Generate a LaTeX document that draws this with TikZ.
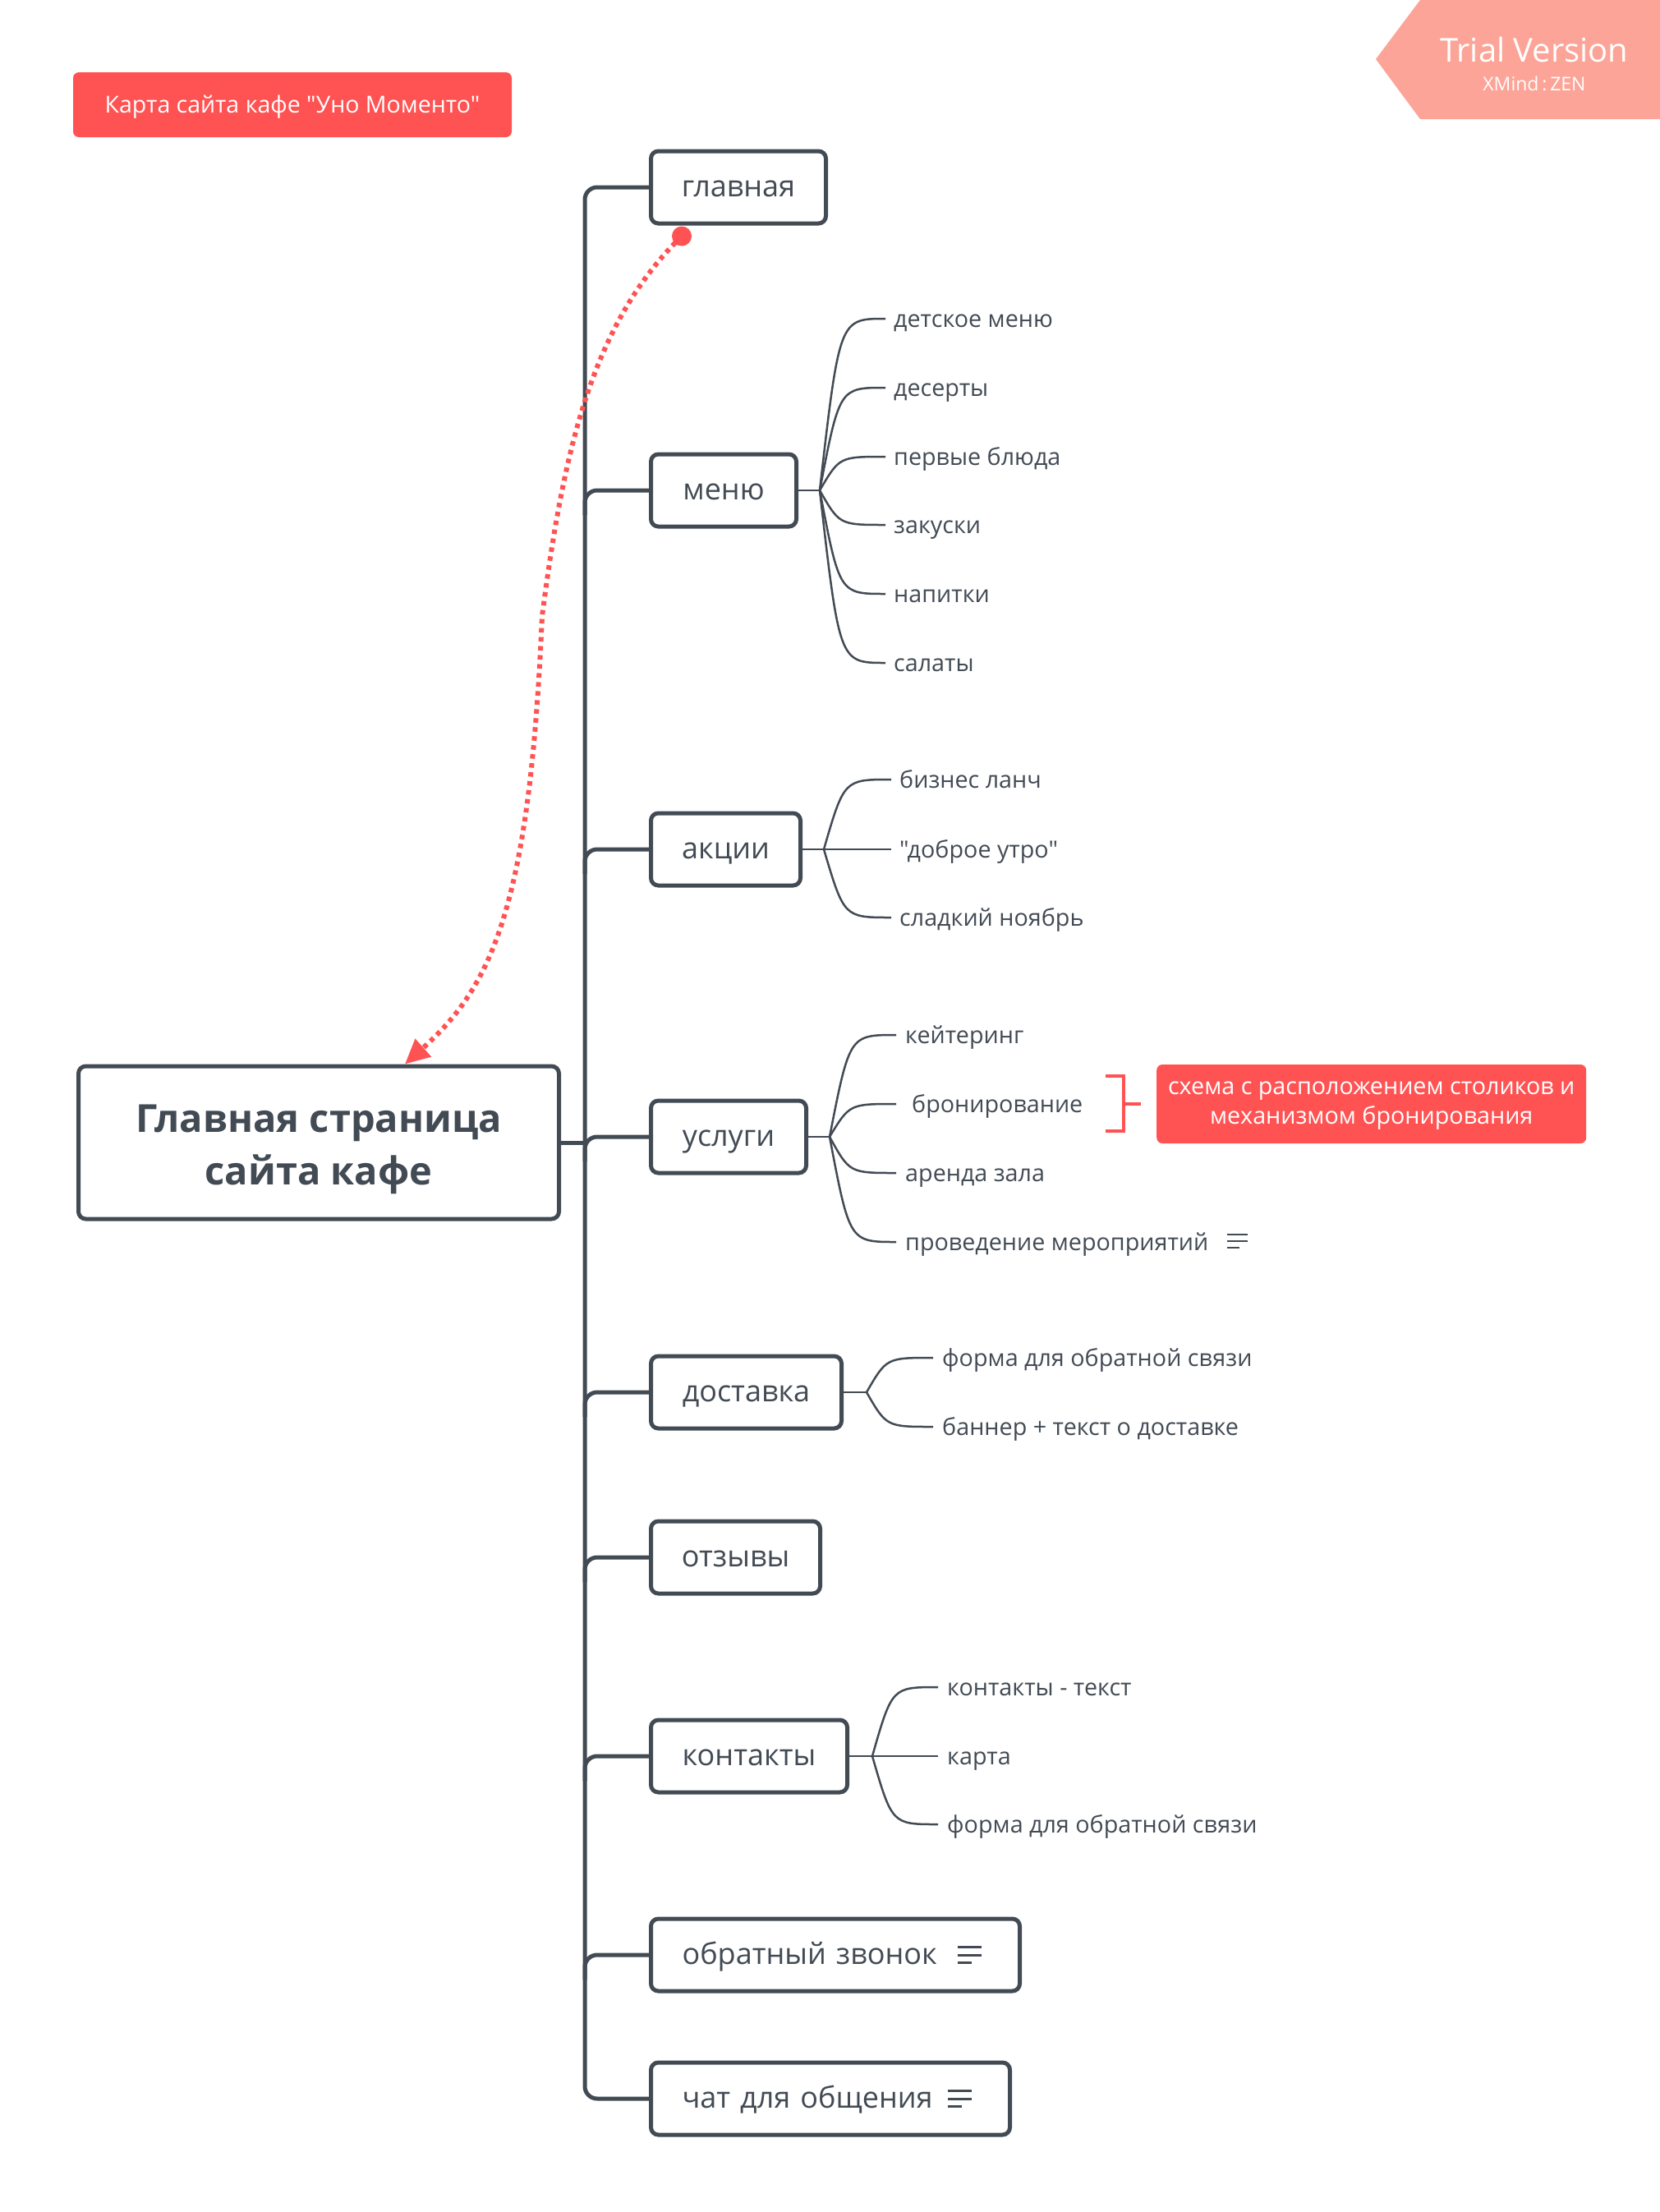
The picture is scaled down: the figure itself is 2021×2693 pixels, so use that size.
\documentclass[tikz,border=0pt]{standalone}
\usepackage{fontspec}
\setmainfont{Open Sans}[Ligatures=TeXOff]
\usetikzlibrary{arrows.meta,calc}
\definecolor{dark}{RGB}{66,74,84}
\definecolor{xred}{RGB}{255,83,83}
\definecolor{salmon}{RGB}{252,164,151}
\newcommand{\fsz}[2]{\fontsize{#1}{#2}\selectfont}
\tikzset{
  branch/.style={draw=dark, line width=5pt, rounded corners=9pt, fill=white, minimum height=88pt,
    text=dark, font=\fsz{36}{44}, text height=31pt, text depth=7.7pt, inner xsep=0pt, anchor=west},
  leaf/.style={text=dark, font=\fsz{28.7}{34}, inner xsep=10pt, inner ysep=0pt,
    text height=26pt, text depth=4.6pt, anchor=west},
  trunk/.style={draw=dark, line width=5pt, rounded corners=15pt},
  twig/.style={draw=dark, line width=2.5pt},
  noteicon/.style={draw=dark, line width=3pt},
  smallicon/.style={draw=dark, line width=2.5pt},
  rel/.style={draw=xred, line width=6pt, dash pattern=on 5.5pt off 5.5pt,
    -{Triangle[length=30pt,width=28pt]}},
  redbox/.style={fill=xred, rounded corners=7pt, text=white},
  bracketline/.style={draw=xred, line width=4pt},
}
\newcommand{\twigto}[2]{\draw[twig] (#1) .. controls ($(#1|-#2.west)!0.3!(#2.west)$) .. (#2.west);}
\begin{document}
\begin{tikzpicture}[x=1pt,y=-1pt]
\useasboundingbox (0,0) rectangle (2021,2693);
\fill[white] (0,0) rectangle (2021,2693);

% trial banner
\fill[salmon] (1675,72) -- (1729,0) -- (2021,0) -- (2021,145) -- (1729,145) -- cycle;
\node[text=white, font=\fsz{40}{46}, anchor=base, inner sep=0pt] (trial) at (1868,75) {Trial Version};
\node[text=white, font=\fsz{23}{26}, anchor=base, inner sep=0pt] (xmind) at (1868,110) {XMind\,:\,ZEN};

% title
\node[redbox, minimum width=534pt, minimum height=79pt, font=\fsz{28.5}{34}, text height=24pt, text depth=4.5pt]
  (title) at (356,127.5) {Карта сайта кафе "Уно Моменто"};

% central topic
\node[draw=dark, line width=5pt, rounded corners=9pt, fill=white, minimum width=585pt, minimum height=186pt,
  align=center, font=\bfseries\fsz{47}{64}, text=dark, text height=113.6pt, text depth=11.3pt] (central) at (388,1391)
  {Главная страница\\сайта кафе};

% branch topics
\node[branch, minimum width=213pt] (glav) at (790,228) {главная};
\node[branch, minimum width=177pt] (menu) at (790,597) {меню};
\node[branch, minimum width=182pt] (akc) at (790,1034) {акции};
\node[branch, minimum width=189pt] (usl) at (790,1384) {услуги};
\node[branch, minimum width=232pt] (dost) at (790,1695) {доставка};
\node[branch, minimum width=206pt] (otz) at (790,1896) {отзывы};
\node[branch, minimum width=239pt] (kont) at (790,2138) {контакты};
\node[branch, text width=373pt, inner xsep=38pt, align=left] (zvon) at (790,2380) {обратный звонок};
\node[branch, text width=361pt, inner xsep=38pt, align=left] (chat) at (790,2555) {чат для общения};

% note icons in boxes
\foreach \b in {zvon,chat}{
  \draw[noteicon] ($(\b.east)+(-78,-10)$) -- ++(29,0);
  \draw[noteicon] ($(\b.east)+(-78,0)$) -- ++(29,0);
  \draw[noteicon] ($(\b.east)+(-78,9)$) -- ++(17,0);
}

% trunk
\coordinate (sp) at (712,1391);
\draw[trunk] (central.east) -- (sp);
\draw[trunk] (glav.west) -| (sp) |- (chat.west);
\foreach \b in {menu,akc,usl,dost,otz,kont,zvon}{
  \draw[trunk] ($(\b.west)+(-78,30)$) |- (\b.west);
}

% menu children
\coordinate (jm) at (998,597);
\draw[twig] (menu.east) -- (jm);
\node[leaf] (m1) at (1078,388) {детское меню};
\node[leaf] (m2) at (1078,472) {десерты};
\node[leaf] (m3) at (1078,556) {первые блюда};
\node[leaf] (m4) at (1078,639) {закуски};
\node[leaf] (m5) at (1078,723) {напитки};
\node[leaf] (m6) at (1078,807) {салаты};
\foreach \n in {m1,m2,m3,m4,m5,m6}{\twigto{jm}{\n}}

% akcii children
\coordinate (ja) at (1003,1034);
\draw[twig] (akc.east) -- (ja);
\node[leaf] (a1) at (1085,949) {бизнес ланч};
\node[leaf] (a2) at (1085,1034) {"доброе утро"};
\node[leaf] (a3) at (1085,1117) {сладкий ноябрь};
\foreach \n in {a1,a2,a3}{\twigto{ja}{\n}}

% uslugi children
\coordinate (ju) at (1010,1384);
\draw[twig] (usl.east) -- (ju);
\node[leaf, inner xsep=11pt] (u1) at (1091,1260) {кейтеринг};
\node[leaf, inner xsep=19pt] (u2) at (1091,1344) {бронирование};
\node[leaf, inner xsep=11pt] (u3) at (1091,1428) {аренда зала};
\node[leaf, inner xsep=11pt] (u4) at (1091,1512) {проведение мероприятий};
\foreach \n in {u1,u2,u3,u4}{\twigto{ju}{\n}}
\draw[smallicon] ($(u4.east)+(12,-9)$) -- ++(25,0);
\draw[smallicon] ($(u4.east)+(12,-1)$) -- ++(25,0);
\draw[smallicon] ($(u4.east)+(12,7)$) -- ++(15,0);

% summary / callout
\node[redbox, minimum width=523pt, minimum height=96pt, font=\fsz{28.7}{36}, align=center, anchor=west,
  text height=55.4pt, text depth=6.9pt]
  (summ) at (1408,1344) {схема с расположением столиков и\\механизмом бронирования};
\draw[bracketline] ($(summ.west)+(-19,0)$) -- ++(-21,0);
\draw[bracketline] ($(summ.west)+(-62,-34)$) -- ++(22,0) -- ++(0,67) -- ++(-22,0);

% dostavka children
\coordinate (jd) at (1055,1695);
\draw[twig] (dost.east) -- (jd);
\node[leaf, inner xsep=11pt] (d1) at (1136,1653) {форма для обратной связи};
\node[leaf, inner xsep=11pt] (d2) at (1136,1737) {баннер + текст о доставке};
\foreach \n in {d1,d2}{\twigto{jd}{\n}}

% kontakty children
\coordinate (jk) at (1062,2138);
\draw[twig] (kont.east) -- (jk);
\node[leaf, inner xsep=11pt] (k1) at (1142,2054) {контакты - текст};
\node[leaf, inner xsep=11pt] (k2) at (1142,2138) {карта};
\node[leaf, inner xsep=11pt] (k3) at (1142,2221) {форма для обратной связи};
\foreach \n in {k1,k2,k3}{\twigto{jk}{\n}}

% relationship
\coordinate (rs) at ($(glav.south west)+(40,13)$);
\coordinate (rm) at (660,750);
\draw[rel] (rs) .. controls (720,395) and (686,550) .. (rm)
  .. controls (645,1100) and (600,1200) .. ($(central.north)+(105,0)$);
\fill[xred] (rs) circle (12);
\end{tikzpicture}
\end{document}
